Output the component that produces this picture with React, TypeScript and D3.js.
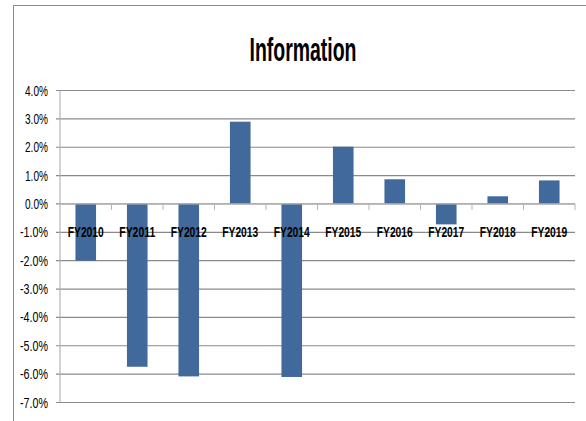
import React from 'react';
import * as d3 from 'd3';

const categories = ['FY2010', 'FY2011', 'FY2012', 'FY2013', 'FY2014', 'FY2015', 'FY2016', 'FY2017', 'FY2018', 'FY2019'];
const values = [-2.0, -5.74, -6.08, 2.9, -6.1, 2.02, 0.87, -0.72, 0.27, 0.83];
const yTicks = [4, 3, 2, 1, 0, -1, -2, -3, -4, -5, -6, -7];

const W = 586;
const H = 421;
const left = 60;
const right = 575;
const top = 90.5;
const bottom = 402.5;
const font = '"Liberation Sans Narrow", "Liberation Sans", Arial, sans-serif';

function App() {
  const x = d3.scaleBand().domain(categories).range([left, right]).paddingInner(0).paddingOuter(0);
  const y = d3.scaleLinear().domain([-7, 4]).range([bottom, top]);
  const barW = x.bandwidth() * 0.4;
  const y0 = y(0);

  return (
    <svg width={W} height={H} style={{ position: 'absolute', left: 0, top: 0 }} xmlns="http://www.w3.org/2000/svg">
      <rect x={0} y={0} width={W} height={H} fill="#fff" />
      {/* chart frame */}
      <line x1={13.5} x2={13.5} y1={5} y2={H} stroke="#8c8c8c" strokeWidth={1} />
      <line x1={13} x2={W} y1={5.5} y2={5.5} stroke="#8c8c8c" strokeWidth={1} />

      <text x={303} y={61} textAnchor="middle" fontFamily={font} fontWeight="bold" fontSize={33}
        textLength={107} lengthAdjust="spacingAndGlyphs" fill="#000">Information</text>

      {/* gridlines */}
      {yTicks.map((t) => (
        <g key={t}>
          <line x1={left - 4} x2={right} y1={y(t)} y2={y(t)} stroke="#8a8a8a" strokeWidth={1.2} />
          <text x={48} y={y(t) + 5} textAnchor="end" fontFamily={font} fontSize={14}
            textLength={t < 0 ? 28 : 23} lengthAdjust="spacingAndGlyphs" fill="#000">
            {t.toFixed(1) + '%'}
          </text>
        </g>
      ))}
      <line x1={left} x2={left} y1={top} y2={bottom} stroke="#b5b5b5" strokeWidth={1.2} />

      {/* bars */}
      {categories.map((c, i) => {
        const v = values[i];
        const cx = x(c)! + x.bandwidth() / 2;
        return (
          <rect key={c} x={cx - barW / 2} y={Math.min(y(v), y0)} width={barW}
            height={Math.abs(y(v) - y0)} fill="#41699c" />
        );
      })}

      {/* category axis on zero line */}
      <line x1={left} x2={right} y1={y0} y2={y0} stroke="#b5b5b5" strokeWidth={1.2} />
      {categories.map((c) => (
        <line key={c} x1={x(c)! + x.bandwidth()} x2={x(c)! + x.bandwidth()} y1={y0} y2={y0 + 6}
          stroke="#b5b5b5" strokeWidth={1} />
      ))}
      {categories.map((c) => (
        <text key={c} x={x(c)! + x.bandwidth() / 2} y={y0 + 33} textAnchor="middle" fontFamily={font}
          fontWeight="bold" fontSize={15} textLength={36} lengthAdjust="spacingAndGlyphs" fill="#000">
          {c}
        </text>
      ))}
    </svg>
  );
}

export default App;
